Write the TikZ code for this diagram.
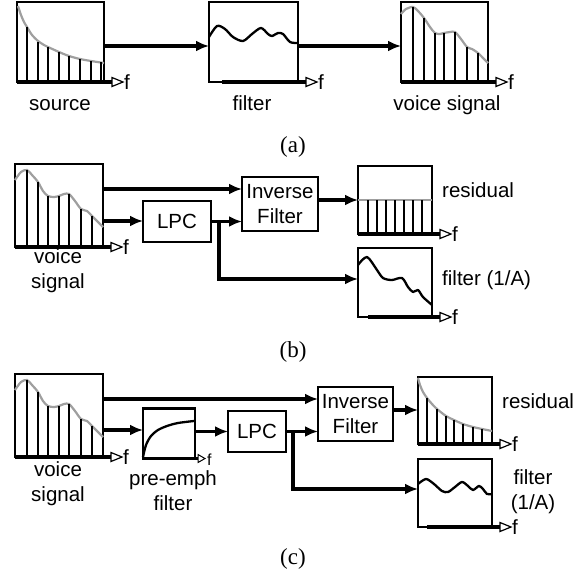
\documentclass[tikz,border=0pt]{standalone}
\usepackage{fontspec}
\setmainfont{Liberation Serif}
\setsansfont{Liberation Sans}
\usetikzlibrary{arrows.meta, positioning, calc}

\tikzset{
  box/.style={draw, line width=2.5pt, inner sep=0pt, outer sep=0pt},
  flow/.style={line width=3.2pt, -{Latex[length=13pt, width=11pt]}},
  bar/.style={line width=2.6pt},
  env/.style={gray!75, line width=2.2pt},
  wave/.style={line width=2.3pt, line join=round},
  axis/.style={line width=3.2pt},
  tri/.style={line width=1.2pt, fill=white},
  lbl/.style={font=\fontsize{20.5}{25}\selectfont\sffamily, inner sep=0pt},
  panel/.style={font=\fontsize{23}{25}\selectfont\rmfamily, inner sep=0pt}
}

\newcommand{\faxis}[2][0pt]{%
  \draw[axis] ([xshift=#1]#2.south west) -- ([xshift=8pt]#2.south east);
  \draw[tri] ([xshift=8pt]#2.south east) -- ++(0,4.5) -- ++(11,-4.5) -- ++(-11,-4.5) -- cycle;
  \node[lbl, anchor=west] (#2-f) at ([xshift=20pt]#2.south east) {f};}

\begin{document}
\begin{tikzpicture}[x=1pt, y=-1pt]
  \useasboundingbox (0,0) rectangle (587,571);

  % (a)
  \node[box, minimum width=87pt, minimum height=80pt] (src) at (60.5,42) {};
  \node[box, minimum width=89pt, minimum height=80pt] (flt) at (253.5,42) {};
  \node[box, minimum width=87pt, minimum height=80pt] (vsa) at (444.5,42) {};

  \draw[env] plot[smooth] coordinates {(18,6) (21,15) (24,22) (27,27) (32,35) (38,41) (44,45) (48,47) (59,52) (69,56) (80,59) (91,61) (104,63)};
  \foreach \x/\t in {27/27,38/42,48/47,59/52,69/56,80/59,91/61,101/62}
    \draw[bar] (\x,82) -- (\x,\t);

  \draw[wave] plot[smooth] coordinates {(209,37) (217,26) (225,29) (233,37) (243,41) (252,34) (261,28) (268,34) (272,36) (278,33) (283,34) (290,42) (298,43)};

  \draw[env] plot[smooth] coordinates {(401,14) (406,9) (413,7) (418,11) (424,18) (430,27) (435,33) (440,34) (444,33) (450,32) (455,32) (461,39) (467,47) (472,49) (478,53) (483,58) (488,63)};
  \foreach \x/\t in {413/7,424/18,435/33,444/33,455/32,467/47,478/53}
    \draw[bar] (\x,82) -- (\x,\t);

  \draw[flow] ([yshift=-4pt]src.east) -- ([yshift=-4pt]flt.west);
  \draw[flow] ([yshift=-4pt]flt.east) -- ([yshift=-4pt]vsa.west);
  \faxis{src}
  \faxis[13pt]{flt}
  \faxis{vsa}

  \node[lbl, anchor=base] (src-l) at (60,110) {source};
  \node[lbl, anchor=base] (flt-l) at (252,110) {filter};
  \node[lbl, anchor=base] (vsa-l) at (447,110) {voice signal};
  \node[panel, anchor=base] (pa) at (293,152) {(a)};

  % (b) and (c)
  \node[box, minimum width=88pt, minimum height=83pt] (vsb) at (59,205.5) {};
  \node[box, minimum width=88pt, minimum height=83pt] (vsc) at (59,415.5) {};
  \foreach \dy in {0,210} {
    \begin{scope}[shift={(0,\dy)}]
      \draw[env] plot[smooth] coordinates {(15,180) (21,172) (27,170) (32,175) (38,182) (43,191) (48,196) (54,197) (59,196) (64,194) (69,194) (75,201) (81,209) (87,211) (92,216) (97,221) (103,227)};
      \foreach \x/\t in {27/170,38/182,48/196,59/196,69/194,81/209,92/216}
        \draw[bar] (\x,247) -- (\x,\t);
    \end{scope}
  }

  \node[box, lbl, minimum width=68pt, minimum height=41pt] (lpcb) at (177,221.5) {LPC};
  \node[box, lbl, align=center, minimum width=76pt, minimum height=54pt] (invb) at (280,204) {Inverse\\Filter};
  \node[box, minimum width=74pt, minimum height=68pt] (resb) at (395,200) {};
  \node[box, minimum width=74pt, minimum height=69pt] (filtb) at (395,282.5) {};

  \draw[env] (resb.west) -- (resb.east);
  \foreach \x in {368,377,386,395,404,413,422}
    \draw[bar] (\x,234) -- (\x,200);
  \draw[wave] plot[smooth] coordinates {(358,265) (367,257) (377,270) (383,278) (392,280) (402,278) (408,287) (413,292) (418,290) (423,297) (432,305)};

  \draw[flow] ([yshift=16.5pt]vsb.east) -- ([yshift=16.5pt]vsb.east -| invb.west);
  \draw[flow] ([yshift=-15.5pt]vsb.east) -- ([yshift=-15.5pt]vsb.east -| lpcb.west);
  \draw[flow] (lpcb.east) -- (lpcb.east -| invb.west);
  \coordinate (brb) at ([xshift=8pt]lpcb.east);
  \draw[flow] (brb) |- ([yshift=3.5pt]filtb.west);
  \draw[flow] ([yshift=4pt]invb.east) -- ([yshift=4pt]invb.east -| resb.west);
  \faxis{vsb}
  \faxis{resb}
  \faxis[10pt]{filtb}

  \node[lbl, align=center] (vsb-l) at (58,271) {voice\\signal};
  \node[lbl, anchor=base west] (resb-l) at (442,197) {residual};
  \node[lbl, anchor=base west] (filtb-l) at (442,285) {filter (1/A)};
  \node[panel, anchor=base] (pb) at (293,357) {(b)};

  % (c)
  \node[box, minimum width=52pt, minimum height=50pt] (pre) at (169,433.5) {};
  \node[box, lbl, minimum width=58pt, minimum height=41pt] (lpcc) at (257,431.5) {LPC};
  \node[box, lbl, align=center, minimum width=75pt, minimum height=54pt] (invc) at (355.5,414) {Inverse\\Filter};
  \node[box, minimum width=74pt, minimum height=67pt] (resc) at (455,410.5) {};
  \node[box, minimum width=74pt, minimum height=68pt] (filtc) at (455,493) {};

  \draw[wave] plot[smooth] coordinates {(143,457) (146,445) (151,436) (158,430) (167,426) (178,423) (194,421)};
  \draw[axis] (pre.south west) -- ([xshift=3pt]pre.south east);
  \draw[tri, line width=1pt] ([xshift=3pt]pre.south east) -- ++(0,4) -- ++(7,-4) -- ++(-7,-4) -- cycle;
  \node[lbl, font=\fontsize{16}{18}\selectfont\sffamily, anchor=west] (pre-f) at ([xshift=12pt,yshift=-1pt]pre.south east) {f};

  \draw[env] plot[smooth] coordinates {(418,378) (420,385) (423,392) (427,398) (432,404) (437,409) (446,416) (454,420) (463,424) (473,427) (482,429) (492,431)};
  \foreach \x/\t in {427/398,437/409,446/416,454/420,463/424,473/427,482/429}
    \draw[bar] (\x,444) -- (\x,\t);
  \draw[wave] plot[smooth] coordinates {(418,484) (426,479) (434,484) (442,491) (448,492) (455,487) (462,482) (468,486) (473,490) (479,486) (483,489) (487,494) (492,494)};

  \draw[flow] ([yshift=16.5pt]vsc.east) -- ([yshift=16.5pt]vsc.east -| invc.west);
  \draw[flow] ([yshift=-14.5pt]vsc.east) -- ([yshift=-14.5pt]vsc.east -| pre.west);
  \draw[flow] (lpcc.west -| pre.east) -- (lpcc.west);
  \draw[flow] (lpcc.east) -- (lpcc.east -| invc.west);
  \coordinate (brc) at ([xshift=7pt]lpcc.east);
  \draw[flow] (brc) |- ([yshift=4pt]filtc.west);
  \draw[flow] ([yshift=4pt]invc.east) -- ([yshift=4pt]invc.east -| resc.west);
  \faxis{vsc}
  \faxis{resc}
  \faxis[9pt]{filtc}

  \node[lbl, align=center] (vsc-l) at (58,484) {voice\\signal};
  \node[lbl, align=center] (pre-l) at (173,491) {pre-emph\\filter};
  \node[lbl, anchor=base west] (resc-l) at (502,408) {residual};
  \node[lbl, align=center] (filtc-l) at (533,492) {filter\\(1/A)};
  \node[panel, anchor=base] (pc) at (293,564) {(c)};
\end{tikzpicture}
\end{document}
